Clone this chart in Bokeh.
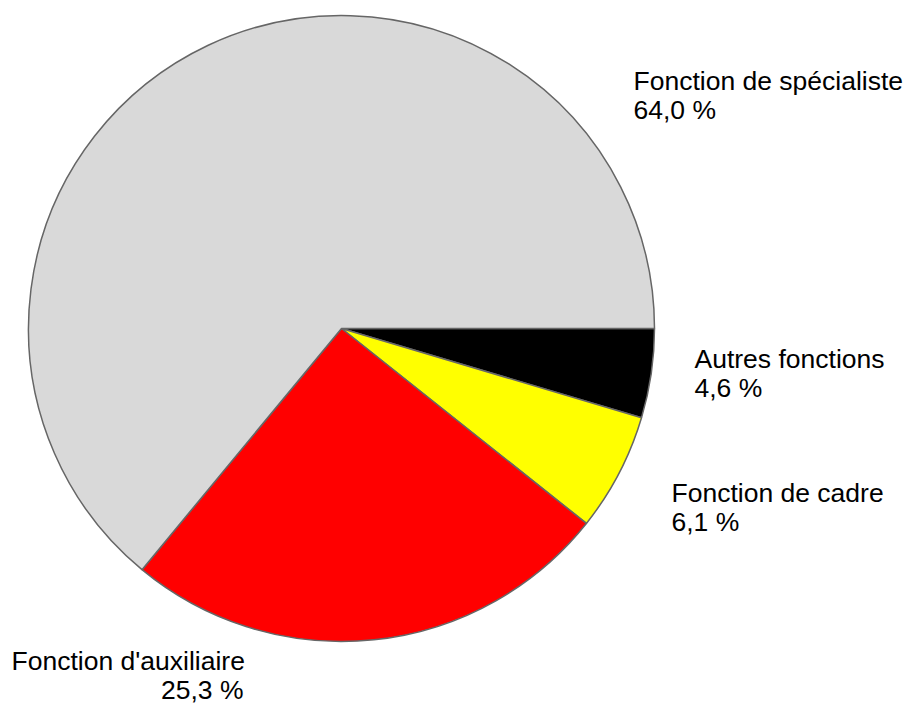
import math
from bokeh.plotting import figure
from bokeh.models import Range1d, ColumnDataSource
from bokeh.core.properties import value
from bokeh.embed import file_html
from bokeh.resources import INLINE

# ---- data ----
categories = ["Autres fonctions", "Fonction de cadre", "Fonction d'auxiliaire", "Fonction de spécialiste"]
shares = [4.6, 6.1, 25.3, 64.0]
share_labels = ["4,6 %", "6,1 %", "25,3 %", "64,0 %"]
colors = ["#000000", "#ffff00", "#ff0000", "#d9d9d9"]

# ---- layout (picture pixel coordinates, y downward) ----
W, H = 903, 704
CX, CY, R = 341, 328, 313
# (x of first line, baseline y of first line, align, x of second line, align)
label_layout = [
    (694, 358, "left", 694, "left"),
    (671, 492, "left", 671, "left"),
    (11, 660, "left", 243, "right"),
    (633, 80, "left", 633, "left"),
]
LINE_GAP = 29
FONT = "Liberation Sans"
FONT_SIZE = "26.5px"


def fy(pic_y):
    return H - pic_y


# wedge angles (clockwise from 3 o'clock)
total = sum(shares)
starts, ends = [], []
cum = 0.0
for s in shares:
    a0 = cum / total * 2 * math.pi
    cum += s
    a1 = cum / total * 2 * math.pi
    starts.append(-a1)
    ends.append(-a0)

src = ColumnDataSource(dict(
    x=[CX] * len(shares), y=[fy(CY)] * len(shares),
    start=starts, end=ends, color=colors, cat=categories,
))

p = figure(width=W, height=H, output_backend="svg", toolbar_location=None,
           x_range=Range1d(0, W), y_range=Range1d(0, H),
           min_border=0, outline_line_color=None)
p.axis.visible = False
p.grid.visible = False
p.background_fill_color = "white"
p.border_fill_color = "white"

p.wedge(x="x", y="y", radius=R, radius_units="screen",
        start_angle="start", end_angle="end",
        fill_color="color", line_color="#666666", line_width=1.5, source=src)

for cat, lab, (x1, b1, al1, x2, al2) in zip(categories, share_labels, label_layout):
    p.text(x=[x1], y=[fy(b1)], text=[cat], text_font=value(FONT), text_font_size=FONT_SIZE,
           text_align=al1, text_baseline="alphabetic", text_color="black")
    p.text(x=[x2], y=[fy(b1 + LINE_GAP)], text=[lab], text_font=value(FONT), text_font_size=FONT_SIZE,
           text_align=al2, text_baseline="alphabetic", text_color="black")

open("out.html", "w").write(file_html(p, INLINE))
